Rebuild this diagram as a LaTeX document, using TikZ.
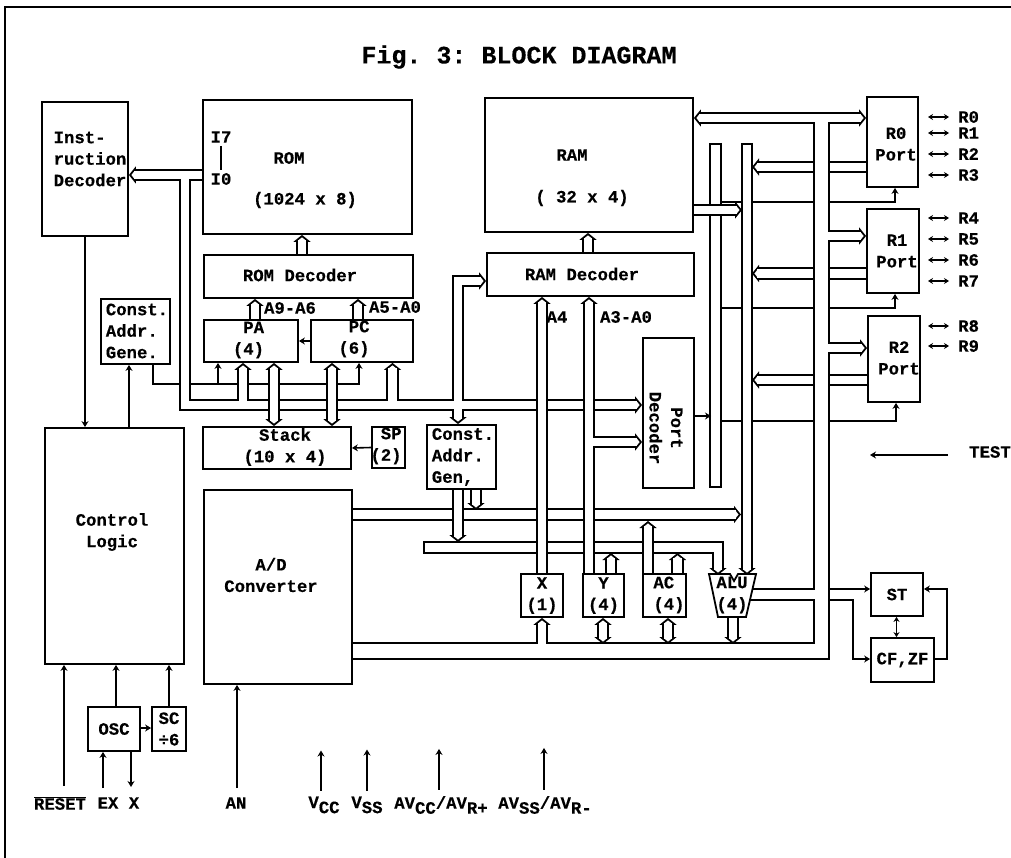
\documentclass[tikz,border=0pt]{standalone}
\usepackage{fontspec}
\setmonofont[BoldFeatures={FakeBold=0.4}]{Liberation Mono}
\usepackage{tikz}
\usetikzlibrary{arrows.meta,calc}
\pgfdeclarelayer{wires}
\pgfdeclarelayer{lowback}
\pgfdeclarelayer{lowfront}
\pgfdeclarelayer{highback}
\pgfdeclarelayer{highfront}
\pgfsetlayers{wires,lowback,lowfront,highback,highfront,main}
\tikzset{
  bustip/.tip={Triangle[length=7pt,width=17pt,line width=1.8pt,fill=white]},
  busline/.style={draw=black,line width=12.5pt,toend/.style={-{bustip}},tostart/.style={{bustip}-},
    toboth/.style={{bustip}-{bustip}},shut/.style={},shutboth/.style={},fat/.style={line width=17.5pt}},
  busfill/.style={draw=white,line width=8.7pt,toend/.style={shorten >=5pt},tostart/.style={shorten <=5pt},
    toboth/.style={shorten <=5pt,shorten >=5pt},shut/.style={shorten <=1.8pt},
    shutboth/.style={shorten <=1.8pt,shorten >=1.8pt},fat/.style={line width=13.7pt}}
}
\newcommand{\bus}[2][]{%
  \begin{pgfonlayer}{lowback}\draw[busline,#1] #2;\end{pgfonlayer}
  \begin{pgfonlayer}{lowfront}\draw[busfill,#1] #2;\end{pgfonlayer}}
\newcommand{\busover}[2][]{%
  \begin{pgfonlayer}{highback}\draw[busline,#1] #2;\end{pgfonlayer}
  \begin{pgfonlayer}{highfront}\draw[busfill,#1] #2;\end{pgfonlayer}}
\begin{document}
\begin{tikzpicture}[x=1pt,y=-1pt,
    box/.style={draw,fill=white,line width=1.8pt,inner sep=0pt,align=center,
                font=\ttfamily\bfseries\fontsize{17.3}{21.5}\selectfont},
    size/.style 2 args={minimum width=#1pt,minimum height=#2pt},
    txt/.style={inner sep=0pt,align=left,font=\ttfamily\bfseries\fontsize{17.3}{21.5}\selectfont},
    wire/.style={line width=1.6pt,-{Stealth[length=6pt,width=7pt]}},
    plain/.style={line width=1.6pt},
    twoway/.style={line width=1.4pt,{Stealth[length=5pt,width=6pt]}-{Stealth[length=5pt,width=6pt]}}
  ]
    \useasboundingbox (0,0) rectangle (1011,858);
    \coordinate (framea) at (5,858);
    \coordinate (frameb) at (5,7);
    \coordinate (framec) at (1011,7);
    \draw[line width=2pt] (framea) -- (frameb) -- (framec);
    \node[txt,font=\ttfamily\bfseries\fontsize{25}{28}\selectfont] (title) at (519,57) {Fig. 3: BLOCK DIAGRAM};

    % blocks
    \node[box,size={86}{134}] (idec) at (85,169) {};
    \node[txt] (idectxt) at (90,159) {Inst-\\ruction\\Decoder};
    \node[box,size={209}{134}] (rom) at (307.5,167) {};
    \node[txt] (i7) at (221,137) {I7};
    \node[txt] (i0) at (221,179) {I0};
    \draw[plain,shorten <=3pt,shorten >=3pt] (i7.south) -- (i0.north);
    \node[txt] (romname) at (289,158) {ROM};
    \node[txt] (romsize) at (305,200) {(1024 x 8)};
    \node[box,size={209}{43}] (romdec) at (308.5,276.5) {};
    \node[txt] (romdectxt) at (300,275) {ROM Decoder};
    \node[box,size={94}{42}] (pa) at (251,341) {};
    \node[txt,align=right] (patxt) at (248.5,340) {PA\\(4)};
    \node[box,size={102}{42}] (pc) at (362,341) {};
    \node[txt,align=right] (pctxt) at (354,339) {PC\\(6)};
    \node[box,size={69}{65}] (cgena) at (135.5,331.5) {};
    \node[txt] (cgenatxt) at (137,331) {Const.\\Addr.\\Gene.};
    \node[box,size={148}{42}] (stack) at (277,448) {};
    \node[txt,align=center] (stacktxt) at (285,447) {Stack\\(10 x 4)};
    \node[box,size={33}{41}] (sp) at (388.5,447.5) {};
    \node[txt,align=right] (sptxt) at (386,446) {SP\\(2)};
    \node[box,size={69}{64}] (cgenb) at (461.5,457) {};
    \node[txt] (cgenbtxt) at (463,457) {Const.\\Addr.\\Gen,};
    \node[box,size={139}{236}] (ctrl) at (114.5,546) {};
    \node[txt,align=center] (ctrltxt) at (112,532) {Control\\Logic};
    \node[box,size={148}{194}] (adc) at (278,587) {};
    \node[txt,align=center] (adctxt) at (271,575) {A/D\\Converter};
    \node[box,size={52}{44}] (osc) at (114,729) {OSC};
    \node[box,size={34}{44}] (sc) at (169,729) {SC\\÷6};
    \node[box,size={208}{134}] (ram) at (589,165) {};
    \node[txt] (ramname) at (572,155) {RAM};
    \node[txt] (ramsize) at (582,198) {( 32 x 4)};
    \node[box,size={207}{43}] (ramdec) at (590.5,274.5) {};
    \node[txt] (ramdectxt) at (582,274) {RAM Decoder};
    \node[box,size={51}{150}] (portdec) at (668.5,413) {};
    \node[txt,align=center,rotate=-90] (portdectxt) at (666,428) {Port\\Decoder};
    \node[box,size={51}{90}] (r0) at (892.5,142) {};
    \node[txt,align=center] (r0txt) at (896,144) {R0\\Port};
    \node[box,size={52}{84}] (r1) at (893,251) {};
    \node[txt,align=center] (r1txt) at (897,251) {R1\\Port};
    \node[box,size={52}{86}] (r2) at (894,359) {};
    \node[txt,align=center] (r2txt) at (899,358) {R2\\Port};
    \node[box,size={42}{43}] (xreg) at (542,595.5) {X\\(1)};
    \node[box,size={41}{43}] (yreg) at (603.5,595.5) {Y\\(4)};
    \node[box,size={43}{43}] (acreg) at (664.5,595.5) {};
    \node[txt] (actxt) at (669,595) {AC\\(4)};
    \draw[box] (709,574) -- (730,574) -- (734,581) -- (738,574) -- (756,574) -- (746,617) -- (718,617) -- cycle;
    \node[txt,align=center] (alu) at (732,595) {ALU\\(4)};
    \node[box,size={52}{43}] (st) at (897,594.5) {ST};
    \node[box,size={63}{44}] (cf) at (902.5,660) {CF,ZF};
    \node[txt] (a96) at (290,308) {A9-A6};
    \node[txt] (a50) at (395,307) {A5-A0};
    \node[txt] (a4) at (557,317) {A4};
    \node[txt] (a30) at (626,317) {A3-A0};

    % bus axes
    \coordinate (idbus) at (185,175);
    \coordinate (addrbus) at (185,405);
    \coordinate (patap) at (243,405);
    \coordinate (pctap) at (392.5,405);
    \coordinate (stacka) at (274,395);
    \coordinate (stackb) at (332,395);
    \coordinate (decbus) at (458,281);
    \coordinate (constdown) at (458,542);
    \coordinate (constsmall) at (476,510);
    \coordinate (adbus) at (741,514.5);
    \coordinate (barlow) at (423,547.5);
    \coordinate (barturn) at (718,547.5);
    \coordinate (barend) at (718,575);
    \coordinate (a4bus) at (542,442);
    \coordinate (a3bus) at (589,442);
    \coordinate (bara) at (715.5,143);
    \coordinate (barabot) at (715.5,488);
    \coordinate (barb) at (747,143);
    \coordinate (barbend) at (747,575);
    \coordinate (ramout) at (742,210);
    \coordinate (topbus) at (821.5,118);
    \coordinate (lowbus) at (821.5,651);
    \coordinate (rback) at (752,167);
    \coordinate (r1back) at (752,273.5);
    \coordinate (r2back) at (752,380);
    \coordinate (r1bus) at (821.5,236);
    \coordinate (r2bus) at (821.5,348);
    \coordinate (aluout) at (821.5,594.5);
    \coordinate (actop) at (648,521);
    \coordinate (ytap) at (611,553);
    \coordinate (actap) at (677.5,553);
    \coordinate (ybot) at (603,644);
    \coordinate (acbot) at (668,644);
    \coordinate (alubot) at (733,644);
    \coordinate (alustart) at (733,617);
    \coordinate (romup) at (302,250);
    \coordinate (paup) at (255,310);
    \coordinate (pcup) at (358,310);
    \coordinate (ramup) at (588,245);

    \bus[toend]{(rom.west|-idbus) -- (idec.east|-idbus)}
    \bus[toend]{(idbus) -- (addrbus) -- (portdec.west|-addrbus)}
    \bus[toend]{(patap) -- (pa.south-|patap)}
    \bus[toend]{(pctap) -- (pc.south-|pctap)}
    \bus[toboth]{(ramdec.west|-decbus) -- (decbus) -- (cgenb.north-|decbus)}
    \bus[toend]{(adc.east|-adbus) -- (adbus)}
    \bus[toend]{(cgenb.south-|constsmall) -- (constsmall)}
    \bus[shut,toend]{(barlow) -- (barturn) -- (barend)}
    \bus[shutboth]{(bara) -- (barabot)}
    \bus[shut,toend]{(barb) -- (barbend)}
    \bus[toend]{(r0.west|-rback) -- (rback)}
    \bus[toend]{(r1.west|-r1back) -- (r1back)}
    \bus[toend]{(r2.west|-r2back) -- (r2back)}
    \bus[toend]{(yreg.north-|ytap) -- (ytap)}
    \bus[toend]{(acreg.north-|actap) -- (actap)}
    \busover[toboth]{(pa.south-|stacka) -- (stack.north-|stacka)}
    \busover[toboth]{(pc.south-|stackb) -- (stack.north-|stackb)}
    \busover[toend]{(xreg.north-|a4bus) -- (ramdec.south-|a4bus)}
    \busover[toend]{(yreg.north-|a3bus) -- (ramdec.south-|a3bus)}
    \busover[toend]{(a3bus) -- (portdec.west|-a3bus)}
    \busover[toend]{(cgenb.south-|constdown) -- (constdown)}
    \busover[toend]{(acreg.north-|actop) -- (actop)}
    \busover[toend]{(ram.east|-ramout) -- (ramout)}
    \busover[toboth]{(ram.east|-topbus) -- (r0.west|-topbus)}
    \busover[fat]{(adc.east|-lowbus) -- (lowbus) -- (topbus)}
    \busover[toend]{(r1bus) -- (r1.west|-r1bus)}
    \busover[toend]{(r2bus) -- (r2.west|-r2bus)}
    \busover{(alu.center|-aluout) -- (aluout)}
    \busover[toend]{(a4bus|-lowbus) -- (xreg.south-|a4bus)}
    \busover[toboth]{(yreg.south-|ybot) -- (ybot)}
    \busover[toboth]{(acreg.south-|acbot) -- (acbot)}
    \busover[toend]{(alustart) -- (alubot)}
    \busover[toend]{(romdec.north-|romup) -- (rom.south-|romup)}
    \busover[toend]{(pa.north-|paup) -- (romdec.south-|paup)}
    \busover[toend]{(pc.north-|pcup) -- (romdec.south-|pcup)}
    \busover[toend]{(ramdec.north-|ramup) -- (ram.south-|ramup)}

    % control lines
    \coordinate (cgenwire) at (153,384);
    \coordinate (pawire) at (218,384);
    \coordinate (pcwire) at (359,384);
    \coordinate (r0wire) at (895,202);
    \coordinate (r1wire) at (895,308);
    \coordinate (r2wire) at (896,421);
    \coordinate (pdout) at (711,416);
    \begin{pgfonlayer}{wires}
      \draw[wire] (cgena.south-|cgenwire) -- (cgenwire) -- (pcwire) -- (pc.south-|pcwire);
      \draw[wire] (pawire) -- (pa.south-|pawire);
      \draw[wire] (bara|-r0wire) -- (r0wire) -- (r0.south-|r0wire);
      \draw[wire] (bara|-r1wire) -- (r1wire) -- (r1.south-|r1wire);
      \draw[wire] (bara|-r2wire) -- (r2wire) -- (r2.south-|r2wire);
    \end{pgfonlayer}
    \draw[wire] (portdec.east|-pdout) -- (pdout);
    \draw[wire] (idec.south) -- (ctrl.north-|idec.south);
    \coordinate (ctrlup) at (129,400);
    \draw[wire] (ctrl.north-|ctrlup) -- (cgena.south-|ctrlup);
    \draw[wire] (pc.west) -- (pa.east);
    \draw[wire] (sp.west) -- (stack.east);

    \coordinate (stin) at (829,589);
    \coordinate (cfout) at (829,600);
    \coordinate (cfdrop) at (853,600);
    \coordinate (cfin) at (853,659);
    \coordinate (stloop) at (947,659);
    \coordinate (stloopb) at (947,589);
    \coordinate (stcf) at (896.5,620);
    \draw[wire] (stin) -- (st.west|-stin);
    \draw[wire] (cfout) -- (cfdrop) -- (cfin) -- (cf.west|-cfin);
    \draw[wire] (cf.east|-stloop) -- (stloop) -- (stloopb) -- (st.east|-stloopb);
    \draw[twoway,line width=1.8pt] (st.south-|stcf) -- (cf.north-|stcf);

    \node[txt,anchor=west] (test) at (969,452) {TEST};
    \coordinate (testfrom) at (948,455);
    \coordinate (testto) at (870,455);
    \draw[wire] (testfrom) -- (testto);

    \foreach \n/\ypos in {0/117,1/133,2/154,3/175,4/218,5/239,6/260,7/281,8/326,9/346} {
      \node[txt,anchor=west] (pin\n) at (958,\ypos) {R\n};
      \draw[twoway] ([xshift=-9pt]pin\n.west) -- ++(-21,0);
    }

    % pins along the bottom
    \node[txt] (reset) at (60,803) {$\overline{\mbox{RESET}}$};
    \node[txt] (ex) at (108,803) {EX};
    \node[txt] (xpin) at (134,803) {X};
    \node[txt] (an) at (236,803) {AN};
    \node[txt] (vcc) at (324,805) {V\raisebox{-5pt}{CC}};
    \node[txt] (vss) at (367,805) {V\raisebox{-5pt}{SS}};
    \node[txt] (avcc) at (441,805) {AV\raisebox{-5pt}{CC}/AV\raisebox{-5pt}{R+}};
    \node[txt] (avss) at (545,805) {AV\raisebox{-5pt}{SS}/AV\raisebox{-5pt}{R-}};
    \coordinate (resetin) at (64,786);
    \coordinate (exin) at (103,788);
    \coordinate (xout) at (131,787);
    \coordinate (anin) at (237,788);
    \coordinate (ctrlosc) at (116,700);
    \coordinate (oscsc) at (140,728);
    \draw[wire] (resetin) -- (ctrl.south-|resetin);
    \draw[wire] (osc.north-|ctrlosc) -- (ctrl.south-|ctrlosc);
    \draw[wire] (sc.north) -- (ctrl.south-|sc.north);
    \draw[wire] (exin) -- (osc.south-|exin);
    \draw[wire] (osc.south-|xout) -- (xout);
    \draw[wire] (oscsc) -- (sc.west|-oscsc);
    \draw[wire] (anin) -- (adc.south-|anin);
    \draw[wire] ([xshift=-3pt,yshift=6pt]vcc.north) -- ++(0,-40);
    \draw[wire] ([yshift=6pt]vss.north) -- ++(0,-41);
    \draw[wire] ([xshift=-2pt,yshift=6pt]avcc.north) -- ++(0,-41);
    \draw[wire] ([xshift=-1pt,yshift=6pt]avss.north) -- ++(0,-42);
  \end{tikzpicture}
\end{document}
